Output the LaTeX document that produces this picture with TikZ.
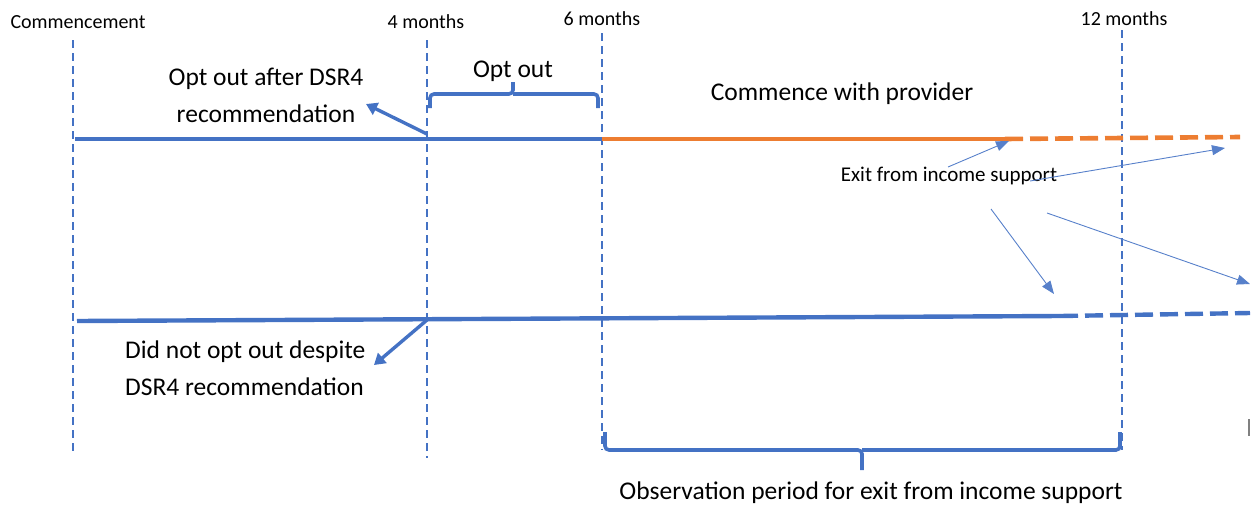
\documentclass[tikz,border=0pt]{standalone}
\usepackage{fontspec}
\setmainfont{Carlito}
\usetikzlibrary{arrows.meta}
\definecolor{bl}{HTML}{4472C4}
\definecolor{orn}{HTML}{ED7D31}
\begin{document}
\begin{tikzpicture}[x=1pt,y=-1pt,
  vdash/.style={bl,line width=1.2pt,dash pattern=on 8pt off 5pt},
  thickline/.style={line width=4.4pt},
  bigarrow/.style={bl,line width=3.4pt,-{Triangle[length=11pt,width=13pt]}},
  thinarrow/.style={bl!90!white,line width=0.9pt,-{Triangle[length=13pt,width=10pt]}},
  bracestyle/.style={bl,line width=3.6pt,rounded corners=4pt},
  small/.style={font=\fontsize{20}{24}\selectfont,inner sep=0pt},
  big/.style={font=\fontsize{25.5}{37}\selectfont,inner sep=0pt},
  mid/.style={font=\fontsize{21}{26}\selectfont,inner sep=0pt}]
\useasboundingbox (0,0) rectangle (1252,509);
% vertical dashed guides
\coordinate (c0t) at (73,40); \coordinate (c0b) at (73,455);
\coordinate (c4t) at (427,40); \coordinate (c4b) at (427,458);
\coordinate (c6t) at (602,33); \coordinate (c6b) at (602,450);
\coordinate (c12t) at (1122,30); \coordinate (c12b) at (1122,450);
\draw[vdash] (c0t) -- (c0b);
\draw[vdash] (c4t) -- (c4b);
\draw[vdash] (c6t) -- (c6b);
\draw[vdash] (c12t) -- (c12b);
% labels top
\node[small] (lcom) at (78,22) {Commencement};
\node[small] (l4) at (426,22) {4 months};
\node[small] (l6) at (602,19) {6 months};
\node[small] (l12) at (1124,19) {12 months};
% top timeline
\coordinate (ta) at (75,139);
\coordinate (t4) at (427,139);
\coordinate (t6) at (602,139);
\coordinate (tx) at (1005,139);
\coordinate (te) at (1240,137);
\draw[bl,thickline] (ta) -- (t6);
\draw[orn,thickline] (t6) -- (tx);
\draw[orn,line width=4.6pt,dash pattern=on 18pt off 7pt] (tx) -- (te);
% bottom timeline
\coordinate (ba) at (77,321);
\coordinate (b4) at (427,320);
\coordinate (bx) at (1060,316);
\coordinate (be) at (1250,313);
\draw[bl,thickline] (ba) -- (bx);
\draw[bl,line width=4.4pt,dash pattern=on 18pt off 7pt] (bx) -- (be);
% opt out brace
\coordinate (ob1) at (430,108); \coordinate (ob2) at (598,108);
\coordinate (obm) at (513,82);
\draw[bracestyle] (ob1) -- (430,94) -- (513,94) -- (obm);
\draw[bracestyle] (513,94) -- (598,94) -- (ob2);
\node[big] (optout) at (513,71) {Opt out};
% observation brace
\coordinate (sb1) at (605,432); \coordinate (sb2) at (1120,432);
\coordinate (sbm) at (862,470);
\draw[bracestyle] (sb1) -- (605,450) -- (862,450) -- (sbm);
\draw[bracestyle] (862,450) -- (1120,450) -- (sb2);
\node[big] (obs) at (871,493) {Observation period for exit from income support};
% labels
\node[big,align=center] (oa) at (266,95) {Opt out after DSR4\\recommendation};
\node[big,align=left,anchor=west] (dn) at (125,368) {Did not opt out despite\\DSR4 recommendation};
\node[big] (cwp) at (842,94) {Commence with provider};
\node[mid] (exit) at (949,176) {Exit from income support};
% arrows
\coordinate (a1) at (366,104);
\coordinate (t4a) at (427,134);
\draw[bigarrow] (t4a) -- (a1);
\coordinate (a2) at (374,365);
\draw[bigarrow] (b4) -- (a2);
\coordinate (e1s) at (948,167); \coordinate (e1e) at (1009,141);
\coordinate (e2s) at (1030,181); \coordinate (e2e) at (1225,148);
\coordinate (e3s) at (991,209); \coordinate (e3e) at (1054,294);
\coordinate (e4s) at (1047,213); \coordinate (e4e) at (1250,284);
\draw[thinarrow] (e1s) -- (e1e);
\draw[thinarrow] (e2s) -- (e2e);
\draw[thinarrow] (e3s) -- (e3e);
\draw[thinarrow] (e4s) -- (e4e);
% small grey mark at right edge
\coordinate (g1) at (1249,419); \coordinate (g2) at (1249,436);
\draw[gray,line width=1.5pt] (g1) -- (g2);
\end{tikzpicture}
\end{document}
